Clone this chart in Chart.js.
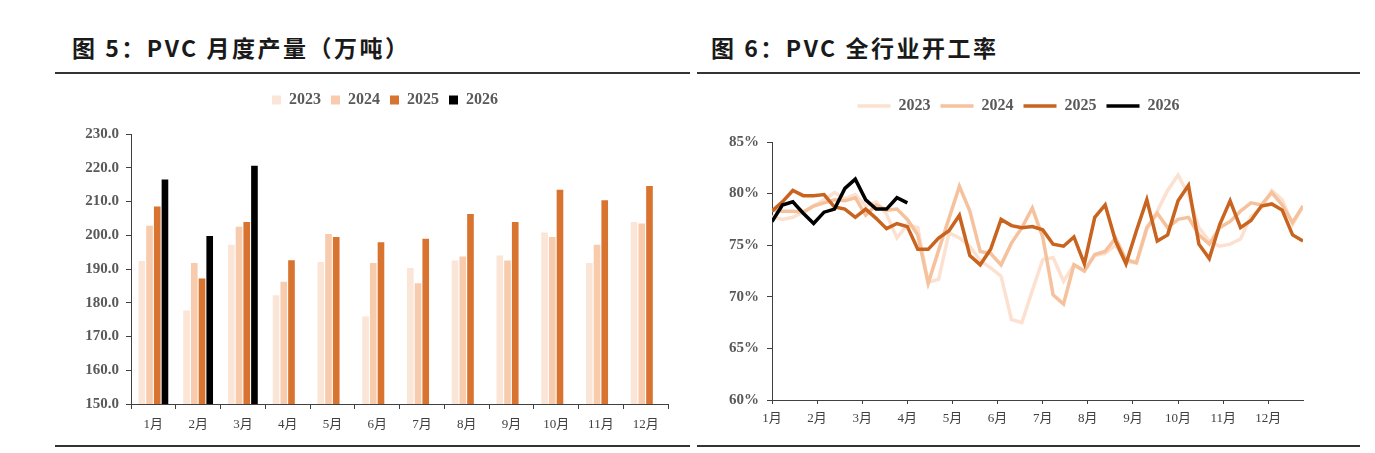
<!DOCTYPE html>
<html>
<head>
<meta charset="utf-8">
<script src="https://cdn.jsdelivr.net/npm/chart.js@4.4.1/dist/chart.umd.min.js"></script>
<style>
  body { margin: 0; width: 1375px; height: 453px; background: #fff; position: relative; overflow: hidden; font-family: "Noto Sans CJK SC", sans-serif; }
  .title { position: absolute; top: 30px; font-size: 23px; font-weight: bold; color: #1a1a1a; letter-spacing: 2.5px; white-space: nowrap; }
  .rule { position: absolute; height: 2px; background: #333; }
  canvas { position: absolute; }
</style>
</head>
<body>
<div class="title" style="left:72px">图 5：PVC 月度产量（万吨）</div>
<div class="title" style="left:711px">图 6：PVC 全行业开工率</div>
<div class="rule" style="left:55px;width:635px;top:72px"></div>
<div class="rule" style="left:697px;width:663px;top:72px"></div>
<div class="rule" style="left:55px;width:635px;top:445px"></div>
<div class="rule" style="left:697px;width:663px;top:445px"></div>

<canvas id="barChart" width="640" height="358" style="left:50px;top:82px"></canvas>
<canvas id="lineChart" width="620" height="352" style="left:700px;top:88px"></canvas>

<script>
// ---- data -----------------------------------------------------------------
const months = ['1月', '2月', '3月', '4月', '5月', '6月', '7月', '8月', '9月', '10月', '11月', '12月'];
const years = ['2023', '2024', '2025', '2026'];

// monthly output, 10k tonnes
const output2023 = [192.4, 177.7, 197.2, 182.2, 192.1, 175.9, 190.3, 192.5, 194.0, 200.8, 191.8, 203.9];
const output2024 = [202.8, 191.8, 202.5, 186.2, 200.4, 191.8, 185.8, 193.7, 192.5, 199.5, 197.2, 203.5];
const output2025 = [208.5, 187.2, 203.9, 192.6, 199.5, 197.9, 199.0, 206.3, 203.9, 213.5, 210.4, 214.6];
const output2026 = [216.5, 199.8, 220.6, null, null, null, null, null, null, null, null, null];
const outputMin = 150, outputMax = 230, outputStep = 10;

// weekly operating rate, %
const rate2023 = [77.8, 77.5, 77.7, 78.2, 78.8, 79.4, 80.1, 79.5, 79.9, 78.8, 79.2, 78.0, 75.7, 77.0, 76.7, 71.4, 71.7, 76.2, 75.7, 74.9, 73.5, 72.8, 72.0, 67.8, 67.5, 70.6, 73.6, 73.8, 71.5, 73.1, 72.5, 74.0, 74.2, 75.0, 73.4, 73.3, 76.5, 78.3, 80.3, 81.8, 79.9, 76.7, 75.4, 74.9, 75.1, 75.6, 77.8, 78.6, 80.3, 79.4, 77.0, 78.8];
const rate2024 = [78.4, 78.3, 78.3, 78.2, 78.8, 79.1, 79.4, 79.3, 79.6, 77.9, 78.9, 78.4, 78.5, 77.5, 76.0, 71.3, 74.5, 77.6, 80.7, 78.3, 74.4, 74.2, 73.1, 75.2, 76.7, 78.6, 75.8, 70.2, 69.3, 73.1, 72.5, 74.1, 74.4, 75.7, 73.6, 73.3, 76.7, 78.1, 76.7, 77.5, 77.7, 76.0, 75.1, 76.7, 77.3, 78.3, 79.1, 78.9, 80.1, 78.9, 77.2, 78.8];
const rate2025 = [78.3, 79.2, 80.3, 79.8, 79.8, 79.9, 78.7, 78.5, 77.7, 78.5, 77.6, 76.6, 77.1, 76.8, 74.6, 74.6, 75.7, 76.4, 77.9, 74.0, 73.1, 74.6, 77.5, 76.9, 76.7, 76.8, 76.5, 75.1, 74.9, 75.8, 73.2, 77.7, 78.9, 75.4, 73.2, 76.4, 79.4, 75.4, 76.0, 79.3, 80.8, 75.1, 73.7, 77.0, 79.3, 76.7, 77.4, 78.8, 79.0, 78.4, 76.0, 75.4];
const rate2026 = [77.3, 78.9, 79.2, 78.1, 77.1, 78.2, 78.5, 80.5, 81.4, 79.4, 78.5, 78.5, 79.6, 79.1];
// week position where each month label sits
const monthWeeks = [0, 4.33, 8.67, 13, 17.33, 21.67, 26, 30.33, 34.67, 39, 43.33, 47.67];
const rateMin = 60, rateMax = 85, rateStep = 5;

// ---- shared style ---------------------------------------------------------
const axisColor = '#404040';
const tickFont = { family: "'Liberation Serif', 'Noto Sans CJK SC'", size: 15, weight: 'bold' };
const monthFont = { family: "'Liberation Serif', 'Noto Sans CJK SC'", size: 13 };
const legendFont = { family: "'Liberation Serif'", size: 16, weight: 'bold' };

// legend: extra space below it, and a sideways nudge
function legendTweak(gap, dx) {
  return {
    id: 'legendTweak',
    beforeInit(chart) {
      const legend = chart.legend;
      const fit = legend.fit;
      const draw = legend.draw;
      legend.fit = function () {
        fit.call(this);
        this.height += gap;
      };
      legend.draw = function () {
        this.ctx.save();
        this.ctx.translate(dx, 0);
        draw.call(this);
        this.ctx.restore();
      };
    }
  };
}

// ==========================================================================
// Bar chart: monthly output
// ==========================================================================
const barColors = ['#FBE5D6', '#F8CBAD', '#D87330', '#000000'];
const outputs = [output2023, output2024, output2025, output2026];

new Chart(document.getElementById('barChart'), {
  type: 'bar',
  data: {
    labels: months,
    datasets: years.map((y, i) => ({
      label: y,
      data: outputs[i],
      backgroundColor: barColors[i],
      categoryPercentage: 0.69,
      barPercentage: 0.86
    }))
  },
  options: {
    responsive: false,
    animation: false,
    layout: { padding: { left: 0, right: 22, top: 0, bottom: 0 } },
    plugins: {
      legend: {
        position: 'top',
        labels: { boxWidth: 9, boxHeight: 9, padding: 10, color: '#595959', font: legendFont }
      },
      tooltip: { enabled: false }
    },
    scales: {
      x: {
        grid: { offset: true, drawOnChartArea: false, drawTicks: true, tickLength: 5, color: axisColor },
        border: { display: true, color: axisColor, width: 1 },
        ticks: { color: axisColor, font: monthFont, padding: 8, maxRotation: 0 },
        afterFit(s) { s.height = 36; }
      },
      y: {
        min: outputMin,
        max: outputMax,
        grid: { drawOnChartArea: false, drawTicks: true, tickLength: 5, color: axisColor },
        border: { display: true, color: axisColor, width: 1 },
        ticks: { stepSize: outputStep, color: '#595959', font: tickFont, padding: 7,
          callback: v => v.toFixed(1) },
        afterFit(s) { s.width = 81; }
      }
    }
  },
  plugins: [legendTweak(16, 26)]
});

// ==========================================================================
// Line chart: operating rate
// ==========================================================================
const lineColors = ['#FCE1D0', '#F6C29D', '#C8641F', '#000000'];
const rates = [rate2023, rate2024, rate2025, rate2026];

new Chart(document.getElementById('lineChart'), {
  type: 'line',
  data: {
    datasets: years.map((y, i) => ({
      label: y,
      data: rates[i].map((v, w) => ({ x: w, y: v })),
      borderColor: lineColors[i],
      backgroundColor: lineColors[i],
      borderWidth: 3.5,
      pointRadius: 0,
      tension: 0,
      order: 4 - i
    }))
  },
  options: {
    responsive: false,
    animation: false,
    layout: { padding: { left: 0, right: 17, top: 0, bottom: 0 } },
    plugins: {
      legend: {
        position: 'top',
        labels: {
          usePointStyle: true, pointStyle: 'line', pointStyleWidth: 33,
          padding: 10, color: '#595959', font: legendFont,
          sort: (a, b) => a.datasetIndex - b.datasetIndex
        }
      },
      tooltip: { enabled: false }
    },
    scales: {
      x: {
        type: 'linear',
        min: 0,
        max: rate2023.length - 1,
        afterBuildTicks(s) { s.ticks = monthWeeks.map(v => ({ value: v })); },
        grid: { drawOnChartArea: false, drawTicks: true, tickLength: 4, color: axisColor },
        border: { display: true, color: axisColor, width: 1 },
        ticks: { autoSkip: false, maxRotation: 0, color: axisColor, font: monthFont, padding: 7,
          callback: (v, i) => months[i] },
        afterFit(s) { s.height = 40; }
      },
      y: {
        min: rateMin,
        max: rateMax,
        grid: { drawOnChartArea: false, drawTicks: true, tickLength: 5, color: axisColor },
        border: { display: true, color: axisColor, width: 1 },
        ticks: { stepSize: rateStep, color: '#595959', font: tickFont, padding: 8,
          callback: v => v + '%' },
        afterFit(s) { s.width = 72; }
      }
    }
  },
  plugins: [legendTweak(18, 17)]
});
</script>
</body>
</html>
